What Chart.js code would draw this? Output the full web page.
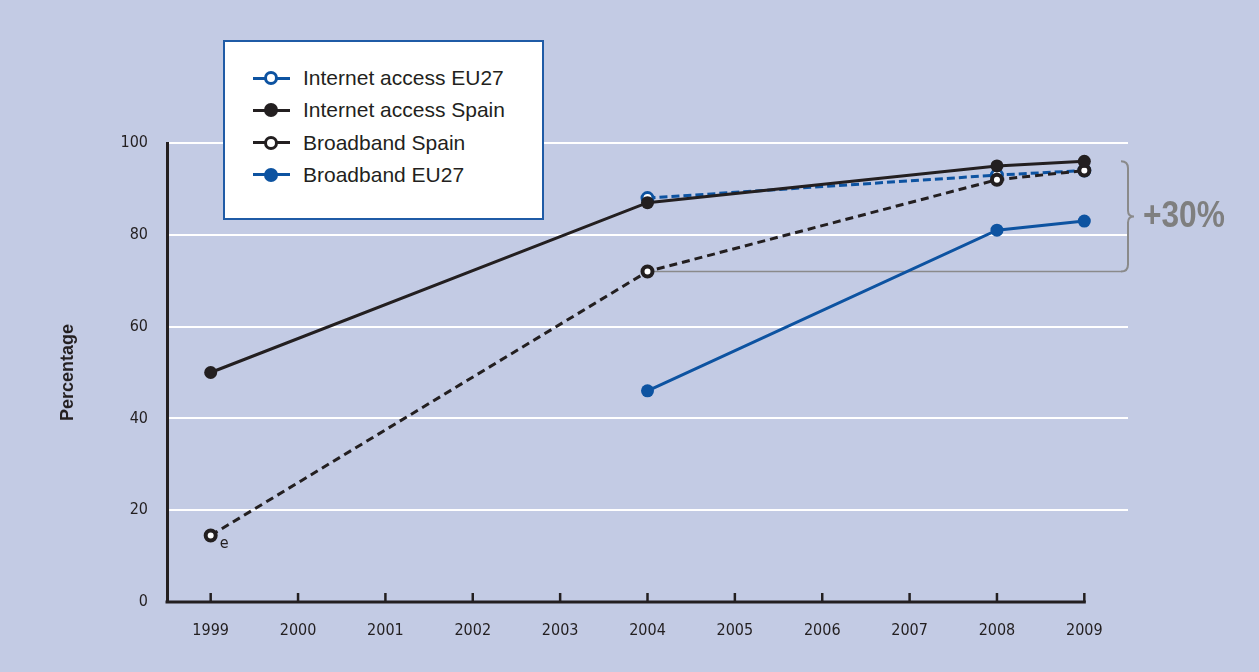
<!DOCTYPE html>
<html lang="en">
<head>
    <meta charset="UTF-8">
    <title>Internet access and broadband</title>
    <style>
        body {
            margin: 0;
            background-color: #c3cbe4;
        }

        .wrap {
            position: relative;
            width: 1259px;
            height: 672px;
        }

        .legend {
            position: absolute;
            left: 223px;
            top: 40px;
            width: 317px;
            height: 176px;
            background: #fff;
            border: 2px solid #1f5ba6;
        }

        .legend-item {
            position: absolute;
            left: 28px;
            height: 24px;
            display: flex;
            align-items: center;
            font-family: 'Liberation Sans', Arial, sans-serif;
            font-size: 21px;
            color: #231f20;
            white-space: nowrap;
        }

        .legend-icon {
            position: relative;
            width: 37px;
            height: 16px;
            margin-right: 13px;
        }

        .legend-icon .bar {
            position: absolute;
            left: 0;
            right: 0;
            top: 6.5px;
            height: 3px;
        }

        .legend-icon .dot {
            position: absolute;
            left: 11px;
            top: 1px;
            width: 14px;
            height: 14px;
            border-radius: 50%;
            box-sizing: border-box;
        }
    </style>
</head>
<body>
    <div class="wrap">
        <canvas id="chart" width="1259" height="672"></canvas>
        <div class="legend" id="legend"></div>
    </div>

    <script src="https://cdn.jsdelivr.net/npm/chart.js"></script>
    <script>
        // data
        const years = ['1999', '2000', '2001', '2002', '2003', '2004', '2005', '2006', '2007', '2008', '2009'];
        const internetEU27 = [null, null, null, null, null, 88, null, null, null, 93, 94];
        const internetSpain = [50, null, null, null, null, 87, null, null, null, 95, 96];
        const broadbandSpain = [14.5, null, null, null, null, 72, null, null, null, 92, 94];
        const broadbandEU27 = [null, null, null, null, null, 46, null, null, null, 81, 83];
        const yTicks = [0, 20, 40, 60, 80, 100];

        const BLACK = '#231f20';
        const BLUE = '#0d53a1';
        const GREY = '#7f7f7f';
        const NARROW = "'DejaVu Sans Condensed', 'Liberation Sans', sans-serif";

        const datasets = [
            {
                label: 'Internet access EU27',
                data: internetEU27,
                borderColor: BLUE,
                borderWidth: 3,
                borderDash: [8, 4],
                pointRadius: 5.5,
                pointBorderWidth: 3,
                pointBackgroundColor: '#fff',
                pointBorderColor: BLUE,
                filled: false,
                order: 4
            },
            {
                label: 'Internet access Spain',
                data: internetSpain,
                borderColor: BLACK,
                borderWidth: 3,
                pointRadius: 6.5,
                pointBorderWidth: 0,
                pointBackgroundColor: BLACK,
                pointBorderColor: BLACK,
                filled: true,
                order: 1
            },
            {
                label: 'Broadband Spain',
                data: broadbandSpain,
                borderColor: BLACK,
                borderWidth: 3,
                borderDash: [8, 5],
                pointRadius: 5,
                pointBorderWidth: 4,
                pointBackgroundColor: '#fff',
                pointBorderColor: BLACK,
                filled: false,
                order: 2
            },
            {
                label: 'Broadband EU27',
                data: broadbandEU27,
                borderColor: BLUE,
                borderWidth: 3,
                pointRadius: 6.5,
                pointBorderWidth: 0,
                pointBackgroundColor: BLUE,
                pointBorderColor: BLUE,
                filled: true,
                order: 3
            }
        ];

        // html legend
        const legendEl = document.getElementById('legend');
        datasets.forEach((ds, i) => {
            const item = document.createElement('div');
            item.className = 'legend-item';
            item.style.top = (24 + i * 32.3) + 'px';
            const icon = document.createElement('span');
            icon.className = 'legend-icon';
            const bar = document.createElement('span');
            bar.className = 'bar';
            bar.style.background = ds.borderColor;
            const dot = document.createElement('span');
            dot.className = 'dot';
            if (ds.filled) {
                dot.style.background = ds.borderColor;
            } else {
                dot.style.background = '#fff';
                dot.style.border = '3.5px solid ' + ds.borderColor;
            }
            icon.appendChild(bar);
            icon.appendChild(dot);
            item.appendChild(icon);
            item.appendChild(document.createTextNode(ds.label));
            legendEl.appendChild(item);
        });

        // x axis line, inward ticks, bracket and notes
        const extras = {
            id: 'extras',
            beforeDatasetsDraw(chart) {
                const ctx = chart.ctx;
                const x = chart.scales.x;
                const y = chart.scales.y;
                const area = chart.chartArea;
                const lastX = x.getPixelForValue(years.length - 1);

                ctx.save();
                ctx.strokeStyle = BLACK;
                ctx.lineWidth = 3;
                ctx.beginPath();
                ctx.moveTo(area.left - 1.5, area.bottom);
                ctx.lineTo(lastX + 1.5, area.bottom);
                ctx.stroke();

                ctx.lineWidth = 2.5;
                years.forEach((yr, i) => {
                    const px = x.getPixelForValue(i);
                    ctx.beginPath();
                    ctx.moveTo(px, area.bottom);
                    ctx.lineTo(px, area.bottom - 9);
                    ctx.stroke();
                });

                // bracket from Broadband Spain 2004 up to the 2009 top
                const xs = area.right;
                const yTop = y.getPixelForValue(internetSpain[10]);
                const yBot = y.getPixelForValue(broadbandSpain[5]);
                const yMid = (yTop + yBot) / 2;
                const x2004 = x.getPixelForValue(5);
                ctx.strokeStyle = '#8a8a8a';
                ctx.lineWidth = 2;
                ctx.beginPath();
                ctx.moveTo(xs - 7, yTop);
                ctx.quadraticCurveTo(xs, yTop, xs, yTop + 7);
                ctx.lineTo(xs, yMid - 6);
                ctx.quadraticCurveTo(xs, yMid, xs + 6, yMid);
                ctx.quadraticCurveTo(xs, yMid, xs, yMid + 6);
                ctx.lineTo(xs, yBot - 7);
                ctx.quadraticCurveTo(xs, yBot, xs - 7, yBot);
                ctx.stroke();
                ctx.lineWidth = 1.5;
                ctx.beginPath();
                ctx.moveTo(xs - 7, yBot);
                ctx.lineTo(x2004, yBot);
                ctx.stroke();
                ctx.restore();
            },
            afterDraw(chart) {
                const ctx = chart.ctx;
                const x = chart.scales.x;
                const y = chart.scales.y;
                const area = chart.chartArea;
                const yTop = y.getPixelForValue(internetSpain[10]);
                const yBot = y.getPixelForValue(broadbandSpain[5]);

                ctx.save();
                ctx.fillStyle = GREY;
                ctx.font = "bold 36px 'Liberation Sans', Arial, sans-serif";
                ctx.textAlign = 'left';
                ctx.textBaseline = 'middle';
                // condensed look: squeeze horizontally
                ctx.translate(area.right + 15, (yTop + yBot) / 2 + 1);
                ctx.scale(0.88, 1);
                ctx.fillText('+30%', 0, 0);
                ctx.restore();

                ctx.save();
                ctx.fillStyle = BLACK;
                ctx.font = "16px " + NARROW;
                ctx.textBaseline = 'middle';
                ctx.fillText('e', x.getPixelForValue(0) + 9, y.getPixelForValue(broadbandSpain[0]) + 8);
                ctx.restore();
            }
        };

        new Chart(document.getElementById('chart'), {
            type: 'line',
            data: {
                labels: years,
                datasets: datasets
            },
            options: {
                responsive: false,
                animation: false,
                devicePixelRatio: 1,
                spanGaps: true,
                layout: {
                    padding: { top: 143, right: 131, left: 0, bottom: 0 }
                },
                plugins: {
                    legend: { display: false },
                    tooltip: { enabled: false }
                },
                elements: {
                    line: { tension: 0 }
                },
                scales: {
                    x: {
                        offset: true,
                        grid: { display: false },
                        border: { display: false },
                        ticks: {
                            color: BLACK,
                            font: { family: NARROW, size: 16 },
                            padding: 11,
                            maxRotation: 0
                        },
                        afterFit(scale) { scale.height = 70; }
                    },
                    y: {
                        min: 0,
                        max: 100,
                        afterBuildTicks(scale) {
                            scale.ticks = yTicks.map(v => ({ value: v }));
                        },
                        grid: {
                            color: ctx => ctx.tick && ctx.tick.value === 0 ? 'rgba(0,0,0,0)' : '#ffffff',
                            lineWidth: 2,
                            drawTicks: false
                        },
                        border: { color: BLACK, width: 3 },
                        ticks: {
                            color: BLACK,
                            font: { family: NARROW, size: 16 },
                            padding: 19
                        },
                        title: {
                            display: true,
                            text: 'Percentage',
                            color: BLACK,
                            font: { family: "'Liberation Sans', Arial, sans-serif", size: 18, weight: 'bold' },
                            padding: { top: 57, bottom: 0 }
                        },
                        afterFit(scale) { scale.width = 167; }
                    }
                }
            },
            plugins: [extras]
        });
    </script>
</body>
</html>
